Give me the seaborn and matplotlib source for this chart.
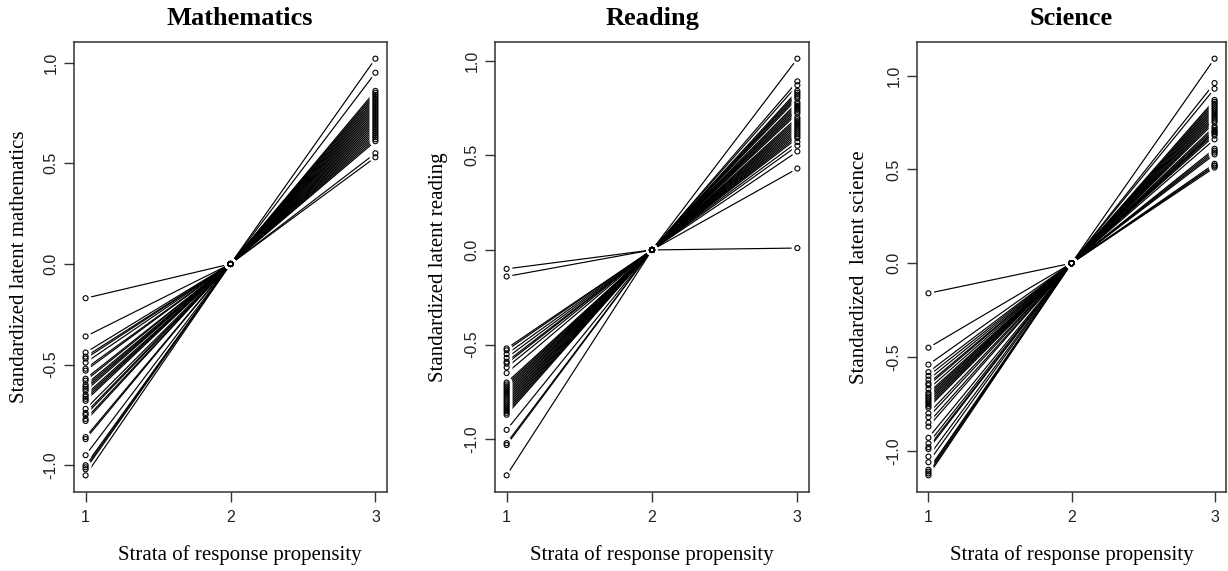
import numpy as np
import pandas as pd
import matplotlib
matplotlib.use("Agg")
import matplotlib.pyplot as plt
import seaborn as sns

# ---------------- data ----------------
strata = [1, 2, 3]
titles = ["Mathematics", "Reading", "Science"]
ylabels = ["Standardized latent mathematics", "Standardized latent reading",
           "Standardized  latent science"]
xlabel = "Strata of response propensity"

math_s1 = [-0.17, -0.36, -0.44, -0.46, -0.47, -0.49, -0.52, -0.53, -0.57, -0.58,
           -0.60, -0.61, -0.62, -0.63, -0.65, -0.66, -0.67, -0.68, -0.72, -0.74,
           -0.75, -0.77, -0.78, -0.86, -0.87, -0.95, -1.00, -1.01, -1.02, -1.05]
math_s2 = [0.0] * len(math_s1)
math_s3 = [0.55, 0.65, 0.86, 0.85, 0.84, 0.83, 0.82, 0.81, 0.80, 0.79,
           0.78, 0.77, 0.76, 0.75, 0.74, 0.73, 0.72, 0.71, 0.70, 0.69,
           0.68, 0.67, 0.66, 0.53, 0.64, 0.63, 0.62, 0.61, 0.95, 1.02]

read_s1 = [-0.10, -0.14, -0.52, -0.53, -0.55, -0.57, -0.59, -0.60, -0.62, -0.65,
           -0.70, -0.71, -0.72, -0.73, -0.74, -0.75, -0.76, -0.77, -0.78, -0.79,
           -0.80, -0.81, -0.82, -0.83, -0.84, -0.85, -0.86, -0.87, -0.95, -1.02,
           -1.03, -1.19]
read_s2 = [0.0] * len(read_s1)
read_s3 = [0.43, 0.01, 0.52, 0.55, 0.57, 0.59, 0.60, 0.61, 0.62, 0.63,
           0.64, 0.65, 0.66, 0.67, 0.68, 0.69, 0.70, 0.72, 0.73, 0.74,
           0.75, 0.76, 0.77, 0.78, 0.80, 0.81, 0.82, 0.83, 0.84, 0.87,
           0.89, 1.01]

sci_s1 = [-0.16, -0.45, -0.54, -0.58, -0.60, -0.62, -0.64, -0.65, -0.67, -0.69,
          -0.70, -0.71, -0.72, -0.73, -0.74, -0.75, -0.76, -0.77, -0.80, -0.82,
          -0.85, -0.87, -0.93, -0.96, -0.98, -0.99, -1.03, -1.06, -1.10, -1.11,
          -1.12, -1.13]
sci_s2 = [0.0] * len(sci_s1)
sci_s3 = [0.51, 0.52, 0.52, 0.53, 0.58, 0.59, 0.60, 0.61, 0.66, 0.68,
          0.69, 0.70, 0.70, 0.71, 0.72, 0.73, 0.75, 0.76, 0.77, 0.78,
          0.79, 0.80, 0.81, 0.82, 0.83, 0.84, 0.85, 0.86, 0.87, 0.93,
          0.96, 1.09]

panels = [(math_s1, math_s2, math_s3), (read_s1, read_s2, read_s3),
          (sci_s1, sci_s2, sci_s3)]

# ---------------- style ----------------
sns.set_style("ticks")
plt.rcParams["font.family"] = ["Liberation Sans", "DejaVu Sans"]
plt.rcParams["axes.unicode_minus"] = False
plt.rcParams["text.color"] = "black"
SERIF = ["Liberation Serif", "DejaVu Serif"]

fig = plt.figure(figsize=(12.28, 5.71), dpi=100)
W, H = 1228, 571
boxes = [(74, 387), (495, 809), (917, 1226)]
top_px, bot_px = 42, 492
title_x = [0.53, 0.5, 0.5]
ylab_px = [20, 439, 859]

for i, ((s1, s2, s3), (l, r)) in enumerate(zip(panels, boxes)):
    ax = fig.add_axes([l / W, 1 - bot_px / H, (r - l) / W, (bot_px - top_px) / H])
    n = len(s1)
    df = pd.DataFrame({
        "unit": np.repeat(np.arange(n), 3),
        "stratum": np.tile(strata, n),
        "value": np.ravel(np.column_stack([s1, s2, s3])),
    })
    sns.lineplot(data=df, x="stratum", y="value", units="unit", estimator=None,
                 color="black", lw=0.85, ax=ax, zorder=1, sort=False)
    # white halos give the R type="b" gaps around points
    sns.scatterplot(data=df, x="stratum", y="value", color="white", s=70,
                    edgecolor="none", ax=ax, zorder=2, legend=False)
    sns.scatterplot(data=df, x="stratum", y="value", s=13, marker="o",
                    facecolor="none", edgecolor="black", linewidth=0.8,
                    ax=ax, zorder=3, legend=False)

    lo, hi = df["value"].min(), df["value"].max()
    ext = 0.04 * (hi - lo)
    ax.set_ylim(lo - ext, hi + ext)
    ax.set_xlim(0.92, 3.08)
    ax.set_xticks(strata)
    ax.set_xticklabels([str(s) for s in strata])
    ax.set_yticks([-1.0, -0.5, 0.0, 0.5, 1.0])
    ax.set_yticklabels(["-1.0", "-0.5", "0.0", "0.5", "1.0"])
    ax.tick_params(axis="both", direction="out", length=7, width=1.0,
                   color="#333333", labelsize=11.5, labelcolor="#222222",
                   bottom=True, left=True, top=False, right=False)
    ax.tick_params(axis="x", pad=6)
    ax.tick_params(axis="y", pad=4)
    for lab in ax.get_yticklabels():
        lab.set_rotation(90)
        lab.set_va("center")
    for sp in ax.spines.values():
        sp.set_visible(True)
        sp.set_color("#333333")
        sp.set_linewidth(1.1)
    ax.set_xlabel("")
    ax.set_ylabel("")
    ax.text(title_x[i], 1 + (top_px - 25) / (bot_px - top_px), titles[i],
            transform=ax.transAxes, ha="center", va="baseline", color="black",
            fontsize=19, fontweight="bold", family=SERIF)
    ax.text(title_x[i], -(560 - bot_px) / (bot_px - top_px), xlabel,
            transform=ax.transAxes, ha="center", va="baseline", color="black",
            fontsize=15, family=SERIF)
    ax.text((ylab_px[i] - l) / (r - l), 0.5, ylabels[i], transform=ax.transAxes,
            rotation=90, ha="center", va="center", fontsize=15, color="black",
            family=SERIF)

fig.savefig("out.png", dpi=100)
